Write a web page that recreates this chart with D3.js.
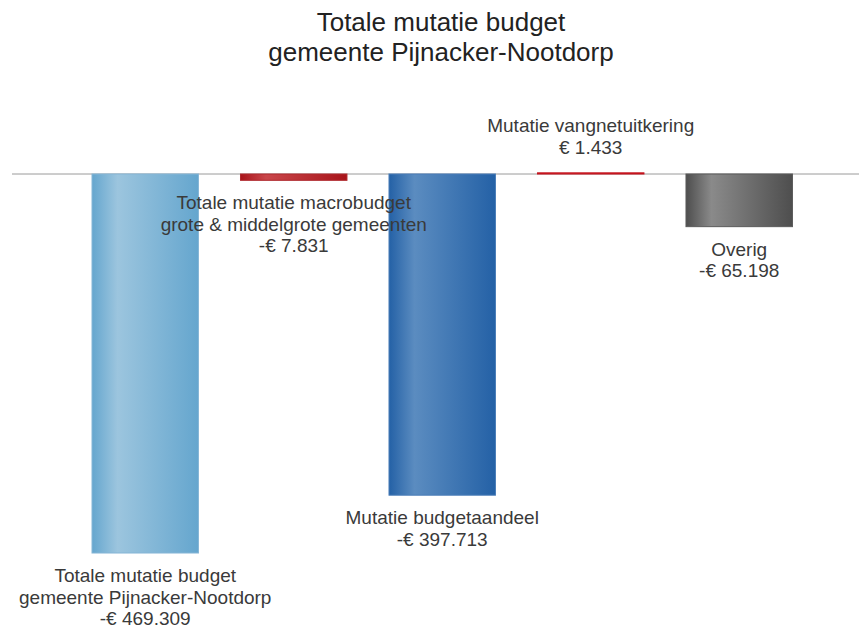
<!DOCTYPE html>
<html>
<head>
<meta charset="utf-8">
<script src="https://cdn.jsdelivr.net/npm/d3@7"></script>
<style>
    body { margin: 0; background: #ffffff; }
    text { font-family: "Liberation Sans", Arial, sans-serif; }
</style>
</head>
<body>
<svg id="chartSvg" width="859" height="629"></svg>
<script>
// chart data
let titleLines = ["Totale mutatie budget", "gemeente Pijnacker-Nootdorp"];
let categories = [
    ["Totale mutatie budget", "gemeente Pijnacker-Nootdorp"],
    ["Totale mutatie macrobudget", "grote & middelgrote gemeenten"],
    ["Mutatie budgetaandeel"],
    ["Mutatie vangnetuitkering"],
    ["Overig"]
];
let values = [-469309, -7831, -397713, 1433, -65198];
// edge colour, highlight colour, border
let barColours = [
    ['#65a6ce', '#9cc5de', '#86b6d6'],
    ['#a8141a', '#c9464a', '#b02a2e'],
    ['#2461a6', '#5b8cc0', '#4a7db8'],
    ['#c4121c', '#d84a50', '#c4121c'],
    ['#4e4e4e', '#8a8a8a', '#5a5a5a']
];

let nl = d3.formatLocale({decimal: ",", thousands: ".", grouping: [3], currency: ["€ ", ""], minus: "-"});
let fmt = nl.format("$,.0f");

function drawChart() {
    let svg = d3.select("#chartSvg");

    //title
    svg.append('text')
        .attr('text-anchor', 'middle')
        .attr('fill', '#222222')
        .style('font-size', '26px')
        .selectAll('tspan')
        .data(titleLines)
        .enter()
        .append('tspan')
        .attr('x', 441)
        .attr('y', (d, i) => 31 + i * 30)
        .text(d => d);

    let idx = d3.range(values.length);

    const xScale = d3.scaleBand()
        .domain(idx)
        .range([17.75, 866.7])
        .paddingInner(0.283)
        .paddingOuter(0.5);

    const yScale = d3.scaleLinear()
        .domain([-500000, 0])
        .range([577.8, 174]);

    //gradients
    let defs = svg.append('defs');
    for (let i = 0; i < values.length; i++) {
        let g = defs.append('linearGradient')
            .attr('id', 'grad' + i)
            .attr('x1', '0%').attr('x2', '100%')
            .attr('y1', '0%').attr('y2', '0%');
        g.append('stop').attr('offset', '0%').attr('stop-color', barColours[i][0]);
        g.append('stop').attr('offset', '24%').attr('stop-color', barColours[i][1]);
        g.append('stop').attr('offset', '100%').attr('stop-color', barColours[i][0]);
    }

    //zero line
    svg.append('line')
        .attr('x1', 12)
        .attr('x2', 859)
        .attr('y1', yScale(0))
        .attr('y2', yScale(0))
        .attr('stroke', '#9a9a9a')
        .attr('stroke-width', 1);

    //bars
    svg.append('g').selectAll('rect')
        .data(idx)
        .enter()
        .append('rect')
        .attr('x', d => xScale(d))
        .attr('width', xScale.bandwidth())
        .attr('y', d => yScale(Math.max(0, values[d])))
        .attr('height', d => Math.abs(yScale(values[d]) - yScale(0)))
        .attr('fill', d => 'url(#grad' + d + ')')
        .attr('stroke', d => barColours[d][2])
        .attr('stroke-width', 1);

    //labels
    let lineH = 21.5;
    for (let i = 0; i < values.length; i++) {
        let lines = categories[i].concat([fmt(values[i])]);
        let cx = xScale(i) + xScale.bandwidth() / 2;
        let firstY;
        if (values[i] < 0) {
            firstY = yScale(values[i]) + 29;
        } else {
            firstY = yScale(values[i]) - 19 - (lines.length - 1) * lineH;
        }
        let t = svg.append('text')
            .attr('text-anchor', 'middle')
            .attr('fill', '#3a3a3a')
            .style('font-size', '19px');
        lines.forEach((l, k) => {
            t.append('tspan')
                .attr('x', cx)
                .attr('y', firstY + k * lineH)
                .text(l);
        });
    }
}

drawChart();
</script>
</body>
</html>
